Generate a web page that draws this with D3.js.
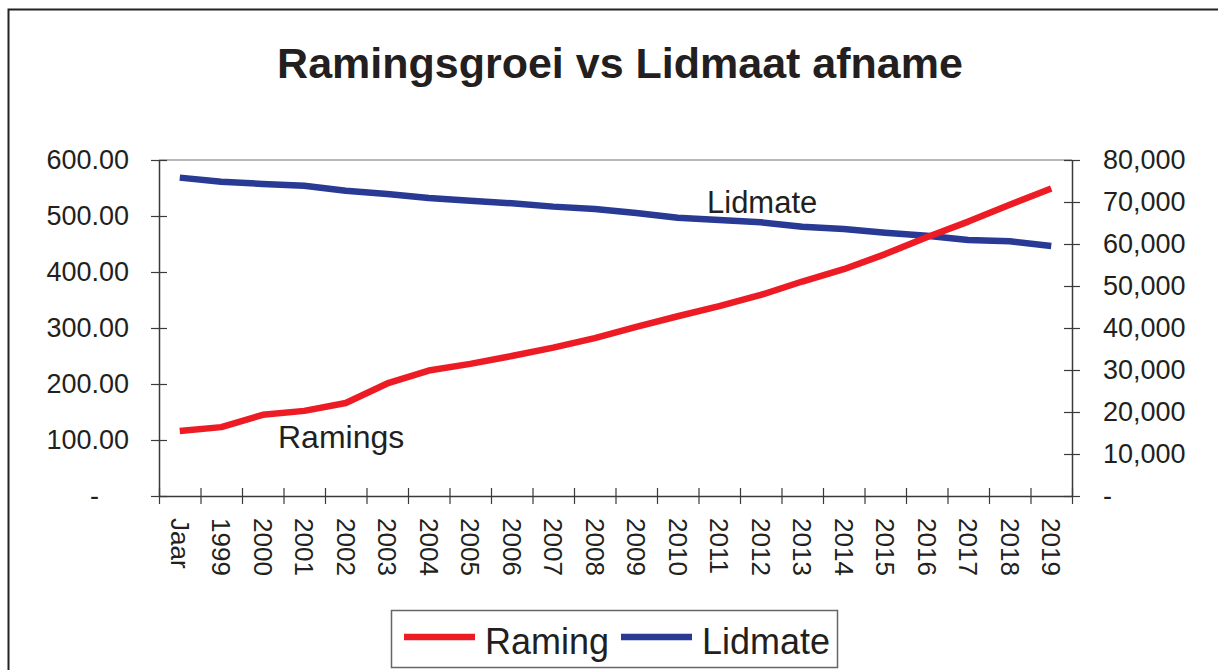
<!DOCTYPE html>
<html lang="nl">
<head>
<meta charset="UTF-8">
<title>Ramingsgroei vs Lidmaat afname</title>
<script src="https://d3js.org/d3.v7.min.js"></script>
<style>
  body { margin: 0; background: #fff; }
  svg { display: block; font-family: "Liberation Sans", Arial, sans-serif; }
  text { fill: #231f20; }
</style>
</head>
<body>
<div id="chart"></div>
<script>
// data
var categories = ["Jaar", "1999", "2000", "2001", "2002", "2003", "2004", "2005", "2006", "2007", "2008",
  "2009", "2010", "2011", "2012", "2013", "2014", "2015", "2016", "2017", "2018", "2019"];
var raming = [116, 123, 145, 152, 166, 201, 224, 236, 250, 265, 282,
  302, 321, 339, 359, 383, 405, 432, 462, 490, 520, 549];
var lidmate = [75800, 74840, 74290, 73880, 72700, 71900, 70950, 70300, 69700, 68900, 68330,
  67400, 66270, 65710, 65170, 64120, 63570, 62690, 61980, 60950, 60640, 59520];
var leftTicks = [0, 100, 200, 300, 400, 500, 600];
var rightTicks = [0, 10000, 20000, 30000, 40000, 50000, 60000, 70000, 80000];

var width = 1218, height = 670;
// plot area edges
var plotL = 159, plotR = 1072, plotT = 160, plotB = 496;

var svg = d3.select("#chart").append("svg")
  .attr("width", width)
  .attr("height", height);

// outer chart border (only top and left visible)
svg.append("path")
  .attr("d", "M8.5,670 V9.5 H1218")
  .attr("fill", "none")
  .attr("stroke", "#222")
  .attr("stroke-width", 2);

svg.append("text")
  .attr("x", 620)
  .attr("y", 78)
  .attr("text-anchor", "middle")
  .style("font-size", "43px")
  .style("font-weight", "bold")
  .text("Ramingsgroei vs Lidmaat afname");

var x = d3.scaleBand().domain(categories).range([plotL, plotR]).padding(0);
var xTick = d3.scaleLinear().domain([0, categories.length]).range([plotL, plotR]);
var yL = d3.scaleLinear().domain([0, 600]).range([plotB, plotT]);
var yR = d3.scaleLinear().domain([0, 80000]).range([plotB, plotT]);

// plot area top edge
svg.append("line")
  .attr("x1", plotL).attr("x2", plotR)
  .attr("y1", plotT).attr("y2", plotT)
  .attr("stroke", "#a0a0a0")
  .attr("stroke-width", 1.5);

function styleAxis(g) {
  g.select(".domain").attr("stroke", "#3a3a3a").attr("stroke-width", 1.5);
  g.selectAll(".tick line").attr("stroke", "#3a3a3a").attr("stroke-width", 1.2);
  g.selectAll(".tick text").style("font-size", "27px").attr("fill", "#231f20");
}

// left axis
var gL = svg.append("g")
  .attr("transform", "translate(" + plotL + ",0)")
  .call(d3.axisLeft(yL)
    .tickValues(leftTicks)
    .tickSizeOuter(0)
    .tickSizeInner(8)
    .tickPadding(22)
    .tickFormat(function (d) { return d === 0 ? "-" : d3.format(".2f")(d); }));
gL.selectAll(".tick line").attr("x1", 8);
styleAxis(gL);
gL.selectAll(".tick text").filter(function (d) { return d === 0; }).attr("x", -60);

// right axis
var gR = svg.append("g")
  .attr("transform", "translate(" + plotR + ",0)")
  .call(d3.axisRight(yR)
    .tickValues(rightTicks)
    .tickSizeOuter(0)
    .tickSizeInner(8)
    .tickPadding(23)
    .tickFormat(function (d) { return d === 0 ? "-" : d3.format(",")(d); }));
gR.selectAll(".tick line").attr("x1", -8);
styleAxis(gR);

// bottom axis: ticks on category boundaries
var gB = svg.append("g")
  .attr("transform", "translate(0," + plotB + ")")
  .call(d3.axisBottom(xTick)
    .tickValues(d3.range(categories.length + 1))
    .tickSizeOuter(0)
    .tickSizeInner(8)
    .tickFormat(""));
gB.selectAll(".tick line").attr("y1", -8);
styleAxis(gB);

// category labels, rotated
svg.append("g").selectAll("text")
  .data(categories)
  .enter().append("text")
  .attr("transform", function (d) {
    return "translate(" + (x(d) + x.bandwidth() / 2) + "," + (plotB + 22) + ") rotate(90)";
  })
  .attr("dy", "0.35em")
  .attr("text-anchor", "start")
  .style("font-size", "26px")
  .text(function (d) { return d; });

// lines
var lineL = d3.line()
  .x(function (d, i) { return x(categories[i]) + x.bandwidth() / 2; })
  .y(function (d) { return yL(d); });
var lineR = d3.line()
  .x(function (d, i) { return x(categories[i]) + x.bandwidth() / 2; })
  .y(function (d) { return yR(d); });

svg.append("path")
  .datum(lidmate)
  .attr("d", lineR)
  .attr("fill", "none")
  .attr("stroke", "#283a93")
  .attr("stroke-width", 6.5)
  .attr("stroke-linejoin", "round");

svg.append("path")
  .datum(raming)
  .attr("d", lineL)
  .attr("fill", "none")
  .attr("stroke", "#ed1c24")
  .attr("stroke-width", 6.5)
  .attr("stroke-linejoin", "round");

// series annotations
svg.append("text").attr("x", 707).attr("y", 213).style("font-size", "31px").text("Lidmate");
svg.append("text").attr("x", 278).attr("y", 448).style("font-size", "32px").text("Ramings");

// legend
var legend = svg.append("g");
legend.append("rect")
  .attr("x", 391.5).attr("y", 610.5)
  .attr("width", 446).attr("height", 57)
  .attr("fill", "#fff")
  .attr("stroke", "#666")
  .attr("stroke-width", 1.5);
var legendItems = [
  { name: "Raming", color: "#ed1c24", x0: 404 },
  { name: "Lidmate", color: "#283a93", x0: 621 }
];
legendItems.forEach(function (it) {
  legend.append("line")
    .attr("x1", it.x0).attr("x2", it.x0 + 71)
    .attr("y1", 637).attr("y2", 637)
    .attr("stroke", it.color)
    .attr("stroke-width", 6.5);
  legend.append("text")
    .attr("x", it.x0 + 81)
    .attr("y", 654)
    .style("font-size", "36px")
    .text(it.name);
});
</script>
</body>
</html>
